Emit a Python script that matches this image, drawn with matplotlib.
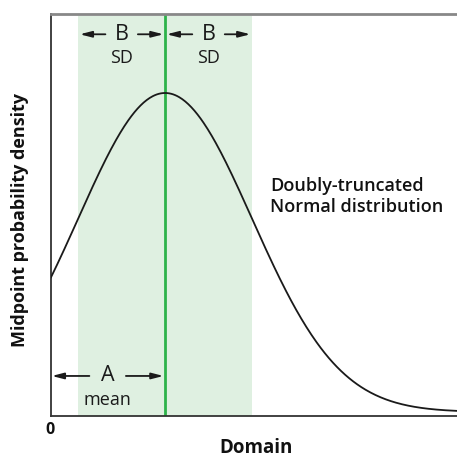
import numpy as np
import matplotlib.pyplot as plt

plt.rcParams['font.family'] = ['Open Sans', 'DejaVu Sans']

# parametry rozkładu (oś x w jednostkach 0..1)
mean = 0.281
sd = 0.214
domain = [0.0, 1.0]
x = np.linspace(domain[0], domain[1], 400)
dens = np.exp(-0.5 * ((x - mean) / sd) ** 2)  # gęstość znormalizowana do szczytu

green = '#2db34a'
band = '#dff0e1'
dark = '#1a1a1a'

fig = plt.figure(figsize=(4.57, 4.58), dpi=100)
ax = fig.add_axes([51 / 457, 1 - 416 / 458, 406 / 457, 402 / 458])
ax.set_xlim(domain)
ax.set_ylim(-0.0125, 1.2476)

ax.axvspan(mean - sd, mean + sd, ymax=0.995, color=band, lw=0, zorder=0)
ax.axvline(mean, color=green, lw=2, zorder=2)
ax.plot(x, dens, color=dark, lw=1.3, zorder=3)

for s in ['left', 'bottom']:
    ax.spines[s].set_color('#333333')
    ax.spines[s].set_linewidth(1.3)
ax.spines['top'].set_color('#888888')
ax.spines['top'].set_linewidth(2)
ax.spines['right'].set_visible(False)
ax.set_xticks([])
ax.set_yticks([])

arrow = dict(arrowstyle='-|>,head_length=0.7,head_width=0.18', color=dark, lw=1.3,
             shrinkA=0, shrinkB=0)

def dim(x0, x1, y, label, sub, gap):
    xm = (x0 + x1) / 2
    ax.annotate('', xy=(x0, y), xytext=(xm - gap, y), arrowprops=arrow)
    ax.annotate('', xy=(x1, y), xytext=(xm + gap, y), arrowprops=arrow)
    ax.text(xm, y, label, ha='center', va='center', fontsize=15.5, color=dark)
    ax.text(xm, y - 0.075, sub, ha='center', va='center', fontsize=13, color=dark)

dim(mean - sd + 0.004, mean - 0.004, 1.184, 'B', 'SD', 0.04)
dim(mean + 0.004, mean + sd - 0.004, 1.184, 'B', 'SD', 0.04)
dim(0.002, mean - 0.004, 0.113, 'A', 'mean', 0.045)

ax.text(0.539, 0.675, 'Doubly-truncated\nNormal distribution', ha='left', va='center',
        fontsize=13, fontweight='semibold', linespacing=1.2, color='#111111')

fig.text(256 / 457, 1 - 453 / 458, 'Domain', ha='center', va='baseline',
         fontsize=13.5, fontweight='bold', color='#111111')
fig.text(20 / 457, 1 - 220 / 458, 'Midpoint probability density', ha='center', va='center',
         rotation=90, fontsize=13, fontweight='bold', color='#111111')
fig.text(50 / 457, 1 - 430 / 458, '0', ha='center', va='center', fontsize=11.5,
         fontweight='bold', color='#111111')

fig.savefig('out.png', dpi=100)
